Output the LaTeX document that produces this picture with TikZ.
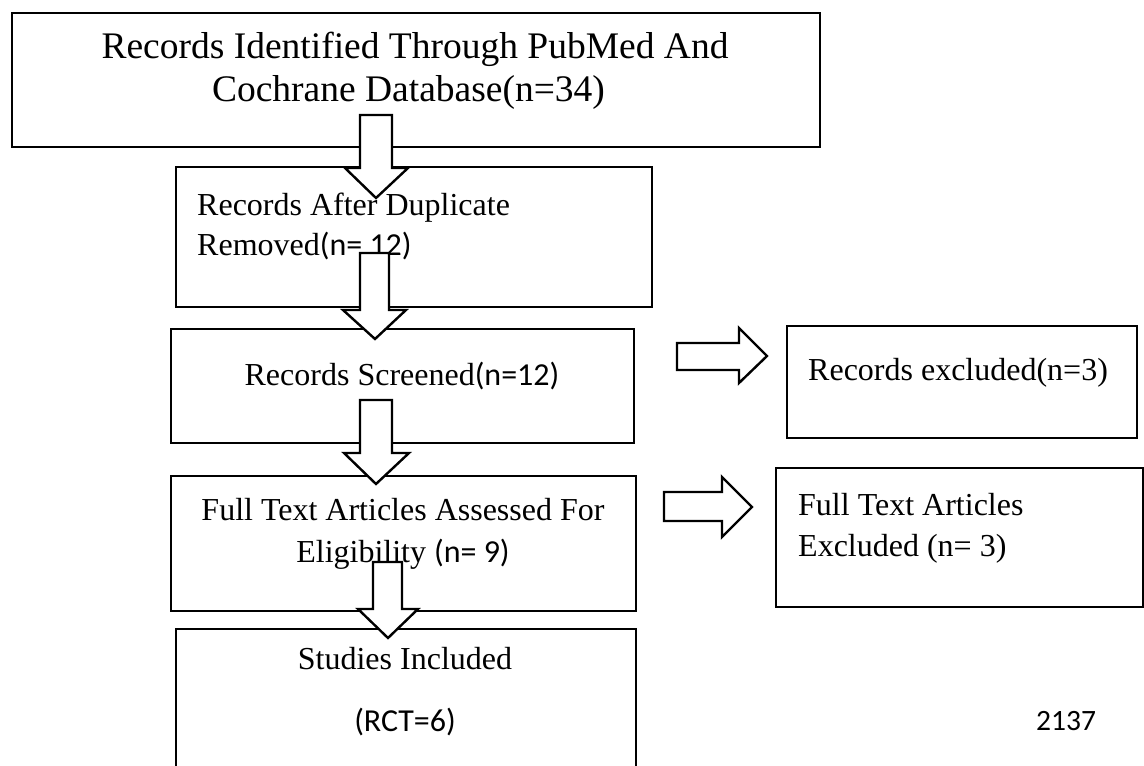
\documentclass[tikz,border=0pt]{standalone}
\usepackage{fontspec}
\setmainfont{Liberation Serif}
\newfontfamily\calib{Carlito}
\begin{document}
\begin{tikzpicture}[x=1pt,y=-1pt,
  box/.style={draw=black, line width=2.7pt, inner sep=0pt, outer sep=0pt},
  big/.style={inner sep=0pt, font=\fontsize{37.5}{45}\selectfont},
  txt/.style={inner sep=0pt, font=\fontsize{32}{38}\selectfont},
  blockarrow/.style={draw=black, fill=white, line width=2.4pt, line join=miter}]
\useasboundingbox (0,0) rectangle (1144,766);
\clip (0,0) rectangle (1144,766);
\fill[white] (0,0) rectangle (1144,766);
% boxes
\node (b1) [box, minimum width=808pt, minimum height=134pt] at (416,80) {};
\node (b2) [box, minimum width=476pt, minimum height=140pt] at (414,237) {};
\node (b3) [box, minimum width=463pt, minimum height=114pt] at (402.5,386) {};
\node (b4) [box, minimum width=465pt, minimum height=135pt] at (403.5,543.5) {};
\node (b5) [box, minimum width=460pt, minimum height=171pt] at (406,714.5) {};
\node (r1) [box, minimum width=350pt, minimum height=112pt] at (962,382) {};
\node (r2) [box, minimum width=367pt, minimum height=139pt] at (959.5,537.5) {};
% texts
\node (t1a) [big, anchor=base] at (415,58) {Records Identified Through PubMed And};
\node (t1b) [big, anchor=base] at (408.5,101) {Cochrane Database(n=34)};
\node (t2a) [txt, anchor=base west] at (197,215) {Records After Duplicate};
\node (t2b) [txt, anchor=base west] at (197,255) {Removed{\calib(n= 12)}};
\node (t3) [txt, anchor=base] at (402,385) {Records Screened{\calib(n=12)}};
\node (t4a) [txt, anchor=base] at (403,520) {Full Text Articles Assessed For};
\node (t4b) [txt, anchor=base] at (403,562) {Eligibility {\calib(n= 9)}};
\node (t5a) [txt, anchor=base] at (405,669) {Studies Included};
\node (t5b) [txt, anchor=base] at (405,731) {\calib(RCT=6)};
\node (tr1) [txt, anchor=base west] at (808,380) {Records excluded(n=3)};
\node (tr2a) [txt, anchor=base west] at (798,515) {Full Text Articles};
\node (tr2b) [txt, anchor=base west] at (798,556) {Excluded (n= 3)};
\node (pg) [inner sep=0pt, anchor=base west, font=\calib\fontsize{29.5}{35}\selectfont] at (1036,730) {2137};
% block arrows (down)
\draw[blockarrow] (360,115) -- (360,168) -- (345,168) -- (376,198) -- (408,168) -- (392,168) -- (392,115) -- cycle;
\draw[blockarrow] (360,253) -- (360,310) -- (343,310) -- (375,339) -- (406,310) -- (389,310) -- (389,253) -- cycle;
\draw[blockarrow] (360,400) -- (360,453) -- (344,453) -- (376,484) -- (409,453) -- (392,453) -- (392,400) -- cycle;
\draw[blockarrow] (373,562) -- (373,609) -- (358,609) -- (388,638) -- (418,609) -- (402,609) -- (402,562) -- cycle;
% block arrows (right)
\draw[blockarrow] (677,343) -- (739,343) -- (739,328) -- (767,356) -- (739,383) -- (739,370) -- (677,370) -- cycle;
\draw[blockarrow] (664,492) -- (722,492) -- (722,477) -- (752,507) -- (722,537) -- (722,521) -- (664,521) -- cycle;
\end{tikzpicture}
\end{document}
